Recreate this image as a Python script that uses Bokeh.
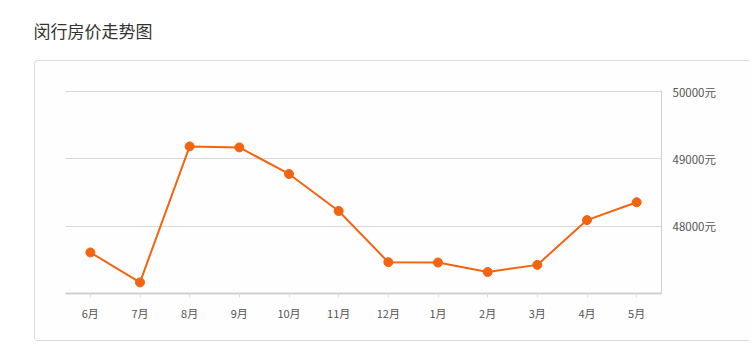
from bokeh.plotting import figure
from bokeh.layouts import column
from bokeh.models import Range1d, FixedTicker, PrintfTickFormatter, Label
from bokeh.embed import file_html
from bokeh.resources import INLINE

months = ["6月", "7月", "8月", "9月", "10月", "11月", "12月", "1月", "2月", "3月", "4月", "5月"]
prices = [47610, 47165, 49185, 49170, 48775, 48225, 47465, 47460, 47320, 47425, 48090, 48355]
y_ticks = [48000, 49000, 50000]
title_text = "闵行房价走势图"

FONT = "Noto Sans CJK SC"
ORANGE = "#f26510"

# title strip
t = figure(width=751, height=60, x_range=Range1d(0, 751), y_range=Range1d(0, 60),
           output_backend="svg", toolbar_location=None, min_border=0,
           min_border_left=0, min_border_right=0, min_border_top=0, min_border_bottom=0,
           x_axis_location=None, y_axis_location=None)
t.outline_line_color = None
t.xgrid.visible = False
t.ygrid.visible = False
t.border_fill_color = "white"
t.background_fill_color = "white"
t.add_layout(Label(x=3, y=30, x_units="screen", y_units="screen", text=title_text,
                   text_font=FONT, text_font_size="17px",
                   text_color="#333333", text_baseline="middle", text_align="left"))

# main chart panel
p = figure(width=717, height=281, x_range=months, y_range=Range1d(47000, 50015),
           y_axis_location="right", output_backend="svg", toolbar_location=None,
           min_border_left=30, min_border_right=91, min_border_top=29, min_border_bottom=49,
           styles={"border": "1px solid #dcdcdc", "border-right": "none",
                   "border-radius": "4px", "box-sizing": "border-box"})
p.margin = (0, 0, 0, 34)
p.outline_line_color = None
p.background_fill_color = "#fefefe"
p.border_fill_color = "#fefefe"

p.line(months, prices, line_color=ORANGE, line_width=2)
p.scatter(months, prices, size=9, fill_color=ORANGE, line_color=ORANGE)

ya = p.yaxis[0]
ya.ticker = FixedTicker(ticks=y_ticks)
ya.formatter = PrintfTickFormatter(format="%d元")
ya.axis_line_color = "#d0d0d0"
ya.major_tick_line_color = None
ya.minor_tick_line_color = None
ya.major_label_text_font = FONT
ya.major_label_text_font_size = "11.5px"
ya.major_label_text_color = "#555555"
ya.major_label_standoff = 5

xa = p.xaxis[0]
xa.axis_line_color = "#d0d0d0"
xa.axis_line_width = 2
xa.major_tick_line_color = "#e0e0e0"
xa.major_tick_out = 4
xa.major_tick_in = 0
xa.major_label_text_font = FONT
xa.major_label_text_font_size = "11px"
xa.major_label_text_color = "#555555"
xa.major_label_standoff = 7

p.xgrid.grid_line_color = None
p.ygrid.grid_line_color = "#d8d8d8"

layout = column(t, p, spacing=0)
open("out.html", "w").write(file_html(layout, INLINE))
